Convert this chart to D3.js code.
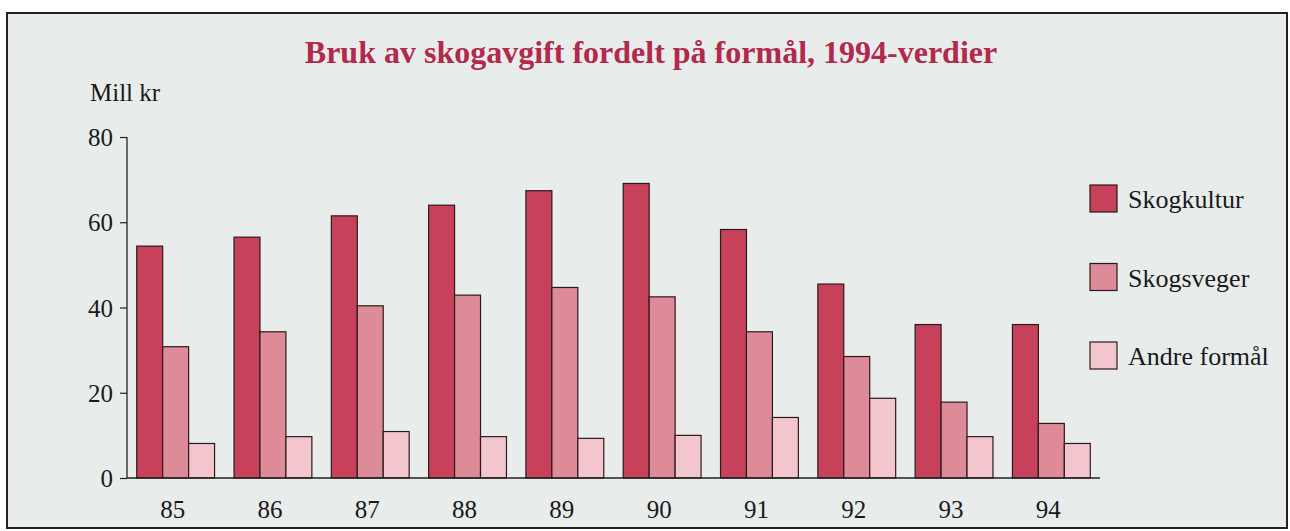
<!DOCTYPE html>
<html>
<head>
<meta charset="utf-8">
<script src="https://cdn.jsdelivr.net/npm/d3@7"></script>
<style>
  body { margin: 0; background: #ffffff; }
  svg { display: block; }
  text { font-family: "Liberation Serif", "DejaVu Serif", serif; fill: #1a1a1a; }
</style>
</head>
<body>
<div id="chart"></div>
<script>
// data
const years = ["85", "86", "87", "88", "89", "90", "91", "92", "93", "94"];
const seriesNames = ["Skogkultur", "Skogsveger", "Andre formål"];
const skogkultur = [54.4, 56.5, 61.5, 64.0, 67.4, 69.1, 58.3, 45.5, 36.0, 36.0];
const skogsveger = [30.8, 34.3, 40.4, 42.9, 44.7, 42.5, 34.3, 28.5, 17.8, 12.8];
const andre = [8.1, 9.7, 10.9, 9.7, 9.3, 10.0, 14.2, 18.7, 9.7, 8.1];
const yTicks = [0, 20, 40, 60, 80];

const colors = ["#c8415b", "#dd8b99", "#f3c6ce"];

const width = 1290;
const height = 531;

const svg = d3.select("#chart")
  .append("svg")
  .attr("width", width)
  .attr("height", height);

// frame of the page
svg.append("rect")
  .attr("x", 7)
  .attr("y", 13)
  .attr("width", 1280)
  .attr("height", 515)
  .attr("fill", "#e8edec")
  .attr("stroke", "#222")
  .attr("stroke-width", 2);

svg.append("text")
  .text("Bruk av skogavgift fordelt på formål, 1994-verdier")
  .attr("x", 651)
  .attr("y", 63)
  .attr("text-anchor", "middle")
  .style("font-size", "32px")
  .style("font-weight", "bold")
  .style("fill", "#b3294b");

svg.append("text")
  .text("Mill kr")
  .attr("x", 90)
  .attr("y", 101)
  .style("font-size", "25px");

const x0 = d3.scaleBand()
  .domain(years)
  .range([127, 1100])
  .paddingInner(0.2)
  .paddingOuter(0.1);

const x1 = d3.scaleBand()
  .domain(seriesNames)
  .range([0, x0.bandwidth()]);

const y = d3.scaleLinear()
  .domain([0, 80])
  .range([478, 137]);

// y axis
const yAxis = svg.append("g")
  .attr("transform", "translate(127,0)")
  .call(d3.axisLeft(y).tickValues(yTicks).tickSize(7).tickPadding(7));
yAxis.select(".domain").attr("stroke", "#222").attr("stroke-width", 1.3)
  .attr("d", "M0," + y(80) + "H0V" + y(0));
yAxis.selectAll(".tick line").attr("stroke", "#222").attr("stroke-width", 1.2);
yAxis.selectAll(".tick text")
  .style("font-size", "25px")
  .style("font-family", "'Liberation Serif', serif")
  .attr("fill", "#1a1a1a")
  .attr("dy", "0.34em");

const values = [skogkultur, skogsveger, andre];

years.forEach((yr, i) => {
  const g = svg.append("g")
    .attr("transform", "translate(" + x0(yr) + ",0)");
  seriesNames.forEach((s, j) => {
    g.append("rect")
      .attr("x", x1(s))
      .attr("y", y(values[j][i]))
      .attr("width", x1.bandwidth())
      .attr("height", y(0) - y(values[j][i]))
      .attr("fill", colors[j])
      .attr("stroke", "#2a1a1c")
      .attr("stroke-width", 1.2);
  });
});

// x axis
const xAxis = svg.append("g")
  .attr("transform", "translate(0," + y(0) + ")")
  .call(d3.axisBottom(x0).tickSize(0).tickPadding(22));
xAxis.select(".domain").attr("stroke", "#222").attr("stroke-width", 1.3)
  .attr("d", "M127,0H1100");
xAxis.selectAll(".tick text")
  .style("font-size", "25px")
  .style("font-family", "'Liberation Serif', serif")
  .attr("fill", "#1a1a1a")
  .attr("dx", "-3");

// legend
const legend = svg.append("g")
  .attr("transform", "translate(1090,185)");
seriesNames.forEach((s, j) => {
  legend.append("rect")
    .attr("x", 0)
    .attr("y", j * 78.5)
    .attr("width", 27)
    .attr("height", 27)
    .attr("fill", colors[j])
    .attr("stroke", "#2a1a1c")
    .attr("stroke-width", 1.2);
  legend.append("text")
    .text(s)
    .attr("x", 38)
    .attr("y", j * 78.5 + 23)
    .style("font-size", "26px");
});
</script>
</body>
</html>
